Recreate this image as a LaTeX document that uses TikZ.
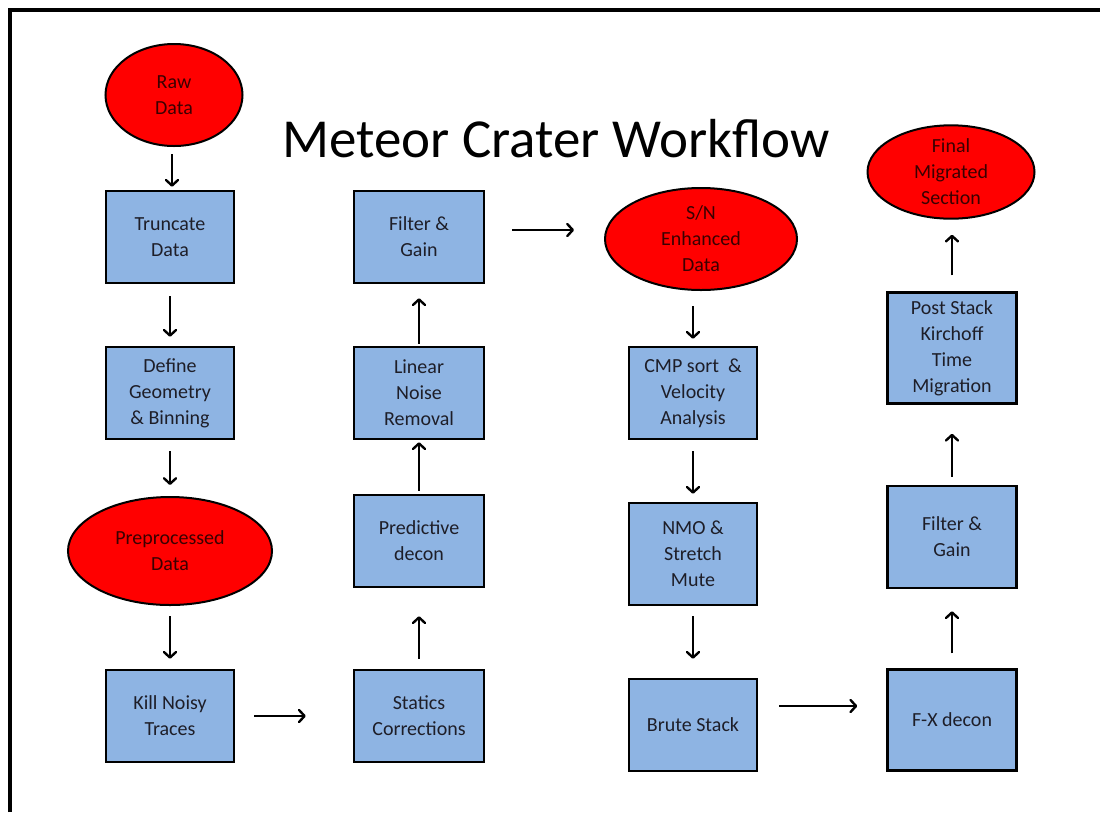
\documentclass[tikz,border=0pt]{standalone}
\usepackage{fontspec}
\setmainfont{Carlito}
\usetikzlibrary{shapes.geometric,arrows.meta}
\definecolor{boxblue}{HTML}{8EB4E3}
\definecolor{boxtext}{HTML}{1E1E28}
\definecolor{elltext}{HTML}{3A0000}
\tikzset{
  stepbox/.style={draw=black, line width=2.5pt, fill=boxblue, text=boxtext, align=center,
    minimum width=128pt, minimum height=92pt, inner sep=0pt,
    font=\fontsize{20}{26}\selectfont},
  datanode/.style={ellipse, draw=black, line width=2pt, fill=red, text=elltext, align=center,
    inner sep=0pt, font=\fontsize{20}{26}\selectfont},
  arr/.style={line width=2pt, -{Straight Barb[length=5.5pt,width=12pt,line width=2.4pt,round]}}
}
\begin{document}
\begin{tikzpicture}[x=1pt,y=-1pt]
\useasboundingbox (0,0) rectangle (1100,812);
\draw[line width=4pt] (10,812) -- (10,10) -- (1100,10);
\node[font=\fontsize{55}{60}\selectfont, anchor=base] (title) at (556,157) {Meteor Crater Workflow};

% column 1
\node[datanode, minimum width=137pt, minimum height=102pt] (raw) at (174,95) {Raw\\Data};
\node[stepbox] (trunc) at (170,237) {Truncate\\Data};
\node[stepbox] (geom) at (170,393) {Define\\Geometry\\\& Binning};
\node[datanode, minimum width=204pt, minimum height=108pt] (pre) at (170,551) {Preprocessed\\Data};
\node[stepbox] (kill) at (170,716) {Kill Noisy\\Traces};

% column 2
\node[stepbox, minimum width=130pt] (filt1) at (419,237) {Filter \&\\Gain};
\node[stepbox, minimum width=130pt] (lin) at (419,393) {Linear\\Noise\\Removal};
\node[stepbox, minimum width=130pt] (pred) at (419,541) {Predictive\\decon};
\node[stepbox, minimum width=130pt] (stat) at (419,716) {Statics\\Corrections};

% column 3
\node[datanode, minimum width=192pt, minimum height=102pt] (sn) at (701,239) {S/N\\Enhanced\\Data};
\node[stepbox] (cmp) at (693,393) {CMP sort~~\&\\Velocity\\Analysis};
\node[stepbox, minimum height=102pt] (nmo) at (693,554) {NMO \&\\Stretch\\Mute};
\node[stepbox] (brute) at (693,725) {Brute Stack};

% column 4
\node[datanode, minimum width=167pt, minimum height=92pt] (final) at (951,172) {Final\\Migrated\\Section};
\node[stepbox, minimum width=129pt, minimum height=111pt] (post) at (952,348) {Post Stack\\Kirchoff\\Time\\Migration};
\node[stepbox, minimum width=129pt, minimum height=102pt] (filt2) at (952,537) {Filter \&\\Gain};
\node[stepbox, minimum width=129pt, minimum height=101pt] (fx) at (952,720) {F-X decon};

% arrows
\draw[arr, shorten <=7pt, shorten >=3pt] (raw.south -| trunc.north) ++(2,0) -- ([xshift=2pt]trunc.north);
\draw[arr, shorten <=12pt, shorten >=9pt] (trunc.south) -- (geom.north);
\draw[arr, shorten <=11pt, shorten >=11pt] (geom.south) -- (pre.north);
\draw[arr, shorten <=10pt, shorten >=10pt] (pre.south) -- (kill.north);
\draw[arr, shorten <=19pt, shorten >=47pt] (kill.east) -- (stat.west);
\draw[arr, shorten <=10pt, shorten >=28pt] (stat.north) -- (pred.south);
\draw[arr, shorten <=3pt, shorten >=2pt] (pred.north) -- (lin.south);
\draw[arr, shorten <=2pt, shorten >=14pt] (lin.north) -- (filt1.south);
\draw[arr, shorten <=27pt, shorten >=30pt] ([yshift=7pt]filt1.east) -- ([yshift=9pt]sn.west);
\draw[arr, shorten <=15pt, shorten >=7pt] (sn.south -| cmp.north) -- (cmp.north);
\draw[arr, shorten <=11pt, shorten >=8pt] (cmp.south) -- (nmo.north);
\draw[arr, shorten <=10pt, shorten >=19pt] (nmo.south) -- (brute.north);
\draw[arr, shorten <=21pt, shorten >=29pt] ([yshift=19pt]brute.east) -- ([yshift=14pt]fx.west);
\draw[arr, shorten <=15pt, shorten >=22pt] (fx.north) -- (filt2.south);
\draw[arr, shorten <=8pt, shorten >=29pt] (filt2.north) -- (post.south);
\draw[arr, shorten <=16pt, shorten >=15pt] (post.north) -- (post.north |- final.south);
\end{tikzpicture}
\end{document}
